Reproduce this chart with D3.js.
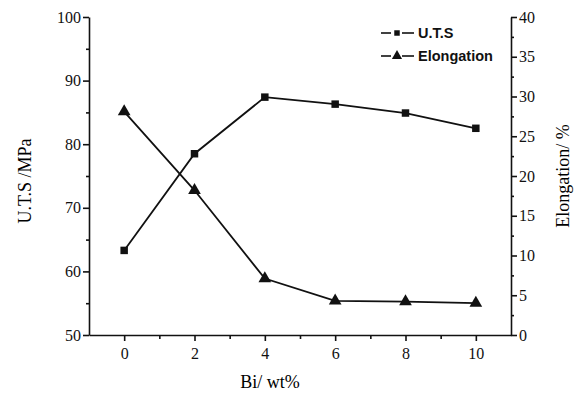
<!DOCTYPE html>
<html>
<head>
<meta charset="utf-8">
<script src="https://cdn.jsdelivr.net/npm/d3@7/dist/d3.min.js"></script>
<style>
  html, body { margin: 0; padding: 0; background: #fff; }
  svg { display: block; }
  .tick text { font-family: "Liberation Serif", "DejaVu Serif", serif; font-size: 16px; fill: #111; }
  .domain, .tick line { stroke: #111; stroke-width: 1.6; }
</style>
</head>
<body>
<svg id="chart" width="577" height="394"></svg>
<script>
// Bi content (wt%)
const biContent = [0, 2, 4, 6, 8, 10];
// Ultimate tensile strength, MPa
const utsValues = [63.3, 78.5, 87.4, 86.3, 84.9, 82.5];
// Elongation, %
const elongationValues = [28.1, 18.2, 7.1, 4.3, 4.2, 4.0];

const xTicks = [0, 2, 4, 6, 8, 10];
const xMinorTicks = [1, 3, 5, 7, 9];
const leftTicks = [50, 60, 70, 80, 90, 100];
const leftMinorTicks = [55, 65, 75, 85, 95];
const rightTicks = [0, 5, 10, 15, 20, 25, 30, 35, 40];
const rightMinorTicks = [2.5, 7.5, 12.5, 17.5, 22.5, 27.5, 32.5, 37.5];

const legendLabels = ["U.T.S", "Elongation"];

const svg = d3.select("#chart");
const plot = { left: 89, right: 511, top: 17, bottom: 335 };

const x = d3.scaleLinear().domain([-1, 11]).range([plot.left, plot.right]);
const yL = d3.scaleLinear().domain([50, 100]).range([plot.bottom, plot.top]);
const yR = d3.scaleLinear().domain([0, 40]).range([plot.bottom, plot.top]);

// minor ticks first (no labels)
svg.append("g")
  .attr("transform", `translate(0,${plot.bottom})`)
  .call(d3.axisBottom(x).tickValues(xMinorTicks).tickSize(4).tickFormat(""))
  .call(g => g.select(".domain").remove());
svg.append("g")
  .attr("transform", `translate(${plot.left},0)`)
  .call(d3.axisLeft(yL).tickValues(leftMinorTicks).tickSize(3).tickFormat(""))
  .call(g => g.select(".domain").remove());
svg.append("g")
  .attr("transform", `translate(${plot.right},0)`)
  .call(d3.axisRight(yR).tickValues(rightMinorTicks).tickSize(3).tickFormat(""))
  .call(g => g.select(".domain").remove());

// major axes
svg.append("g")
  .attr("transform", `translate(0,${plot.bottom})`)
  .call(d3.axisBottom(x).tickValues(xTicks).tickSizeInner(6).tickSizeOuter(0).tickPadding(7).tickFormat(d3.format("d")));
svg.append("g")
  .attr("transform", `translate(${plot.left},0)`)
  .call(d3.axisLeft(yL).tickValues(leftTicks).tickSizeInner(6).tickSizeOuter(0).tickPadding(2).tickFormat(d3.format("d")));
svg.append("g")
  .attr("transform", `translate(${plot.right},0)`)
  .call(d3.axisRight(yR).tickValues(rightTicks).tickSizeInner(6).tickSizeOuter(0).tickPadding(2).tickFormat(d3.format("d")));

// axis titles
const titleFont = '"Liberation Serif", "DejaVu Serif", serif';
svg.append("text")
  .attr("x", 270).attr("y", 388)
  .attr("text-anchor", "middle")
  .attr("font-family", titleFont).attr("font-size", 18)
  .text("Bi/ wt%");
svg.append("text")
  .attr("transform", "translate(31,181) rotate(-90)")
  .attr("text-anchor", "middle")
  .attr("font-family", titleFont).attr("font-size", 18)
  .text("U.T.S /MPa");
svg.append("text")
  .attr("transform", "translate(569,176) rotate(-90)")
  .attr("text-anchor", "middle")
  .attr("font-family", titleFont).attr("font-size", 18)
  .text("Elongation/ %");

// series
const lineUTS = d3.line().x((d, i) => x(biContent[i])).y(d => yL(d));
const lineEl = d3.line().x((d, i) => x(biContent[i])).y(d => yR(d));

svg.append("path").datum(utsValues)
  .attr("d", lineUTS).attr("fill", "none").attr("stroke", "#111").attr("stroke-width", 1.8);
svg.append("path").datum(elongationValues)
  .attr("d", lineEl).attr("fill", "none").attr("stroke", "#111").attr("stroke-width", 1.8);

const square = d3.symbol().type(d3.symbolSquare).size(56);
const triangle = d3.symbol().type(d3.symbolTriangle).size(70);

svg.append("g").selectAll("path").data(utsValues).join("path")
  .attr("transform", (d, i) => `translate(${x(biContent[i])},${yL(d)})`)
  .attr("d", square).attr("fill", "#111");
svg.append("g").selectAll("path").data(elongationValues).join("path")
  .attr("transform", (d, i) => `translate(${x(biContent[i])},${yR(d)})`)
  .attr("d", triangle).attr("fill", "#111");

// legend
const legend = svg.append("g");
const legendRows = [
  { label: legendLabels[0], shape: d3.symbolSquare, size: 30, y: 33 },
  { label: legendLabels[1], shape: d3.symbolTriangle, size: 45, y: 56 }
];
legendRows.forEach(r => {
  legend.append("line").attr("x1", 381).attr("x2", 391).attr("y1", r.y).attr("y2", r.y)
    .attr("stroke", "#111").attr("stroke-width", 1.6);
  legend.append("line").attr("x1", 402).attr("x2", 414).attr("y1", r.y).attr("y2", r.y)
    .attr("stroke", "#111").attr("stroke-width", 1.6);
  legend.append("path").attr("transform", `translate(397,${r.y})`)
    .attr("d", d3.symbol().type(r.shape).size(r.size)()).attr("fill", "#111");
  legend.append("text").attr("x", 418).attr("y", r.y + 5)
    .attr("font-family", '"Liberation Sans", Arial, sans-serif')
    .attr("font-size", 14.5).attr("font-weight", "bold")
    .attr("fill", "#111")
    .text(r.label);
});
</script>
</body>
</html>
